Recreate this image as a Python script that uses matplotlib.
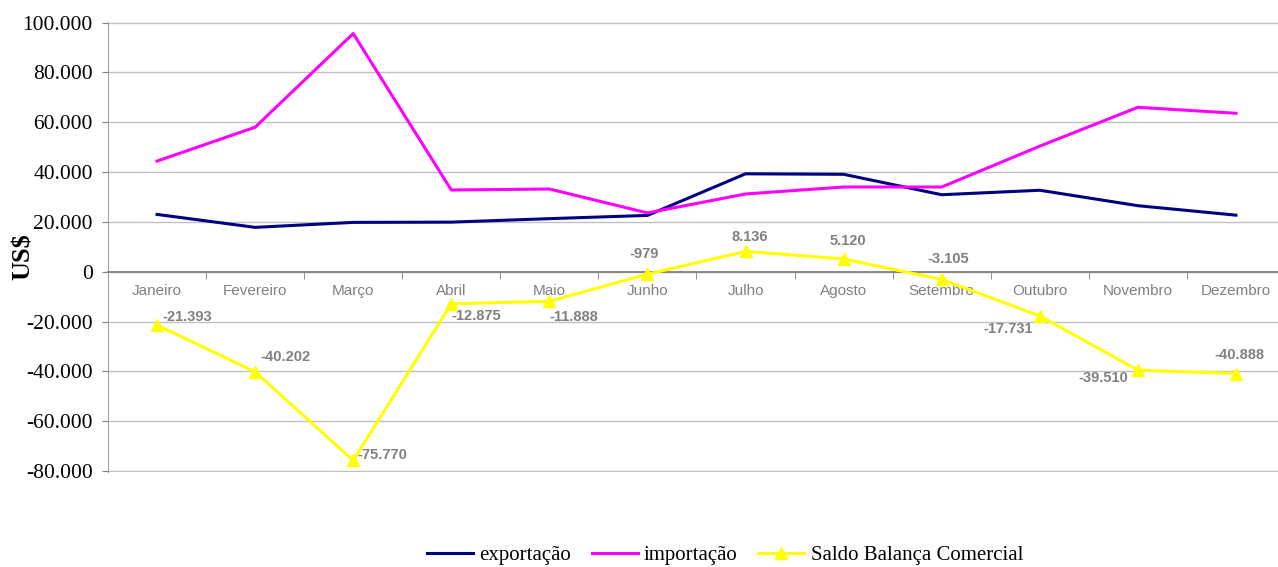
import matplotlib.pyplot as plt
from matplotlib.ticker import FuncFormatter, FixedLocator

plt.rcParams['axes.unicode_minus'] = False

# dados
meses = ['Janeiro', 'Fevereiro', 'Março', 'Abril', 'Maio', 'Junho', 'Julho',
         'Agosto', 'Setembro', 'Outubro', 'Novembro', 'Dezembro']
exportacao = [23000, 17800, 19800, 19900, 21300, 22600, 39300, 39100, 30900, 32700, 26500, 22700]
importacao = [44400, 58000, 95600, 32800, 33200, 23600, 31200, 34000, 34000, 50400, 66000, 63600]
saldo = [-21393, -40202, -75770, -12875, -11888, -979, 8136, 5120, -3105, -17731, -39510, -40888]

# deslocamento dos rótulos (pixels) e alinhamento
rotulo_pos = [(5, 8, 'left'), (30, 15, 'center'), (4, 5, 'left'), (0, -12, 'left'),
              (0, -16, 'left'), (-3, 20, 'center'), (4, 14, 'center'), (4, 18, 'center'),
              (6, 20, 'center'), (-32, -13, 'center'), (-35, -8, 'center'), (3, 19, 'center')]

fig = plt.figure(figsize=(12.78, 5.67), dpi=100)
ax = fig.add_axes([108 / 1278, 95 / 567, 1177 / 1278, 450.4 / 567])

x = list(range(len(meses)))
ax.plot(x, exportacao, color='#000080', lw=2.2, label='exportação', zorder=3)
ax.plot(x, importacao, color='#FF00FF', lw=2.2, label='importação', zorder=3)
ax.plot(x, saldo, color='#FFFF00', lw=2.2, marker='^', markersize=9,
        label='Saldo Balança Comercial', zorder=4)

for i, v in enumerate(saldo):
    dx, dy, ha = rotulo_pos[i]
    txt = f'{v:,}'.replace(',', '.')
    ax.annotate(txt, (i, v), xytext=(dx, dy), textcoords='offset pixels',
                ha=ha, va='center', fontsize=10.5, fontweight='bold',
                color='#808080', family='Liberation Sans', zorder=5)

ax.set_xlim(-0.5, 11.5)
ax.set_ylim(-80400, 100400)
ax.set_yticks(range(-80000, 100001, 20000))
ax.yaxis.set_major_formatter(FuncFormatter(lambda v, p: f'{int(v):,}'.replace(',', '.')))
for lab in ax.get_yticklabels():
    lab.set_family('Liberation Serif')
ax.tick_params(axis='y', labelsize=15.5, length=4, color='#808080', pad=7)

ax.grid(axis='y', color='#C0C0C0', lw=1)
ax.set_axisbelow(True)
for s in ['top', 'right']:
    ax.spines[s].set_visible(False)
ax.spines['left'].set_color('#A0A0A0')
ax.spines['bottom'].set_position(('data', 0))
ax.spines['bottom'].set_color('#808080')
ax.spines['bottom'].set_linewidth(1.3)

ax.set_xticks(x)
ax.set_xticklabels(meses, family='Liberation Sans', fontsize=11, color='#808080')
ax.tick_params(axis='x', which='major', length=0, pad=9)
ax.xaxis.set_minor_locator(FixedLocator([i - 0.5 for i in range(1, 13)]))
ax.tick_params(axis='x', which='minor', length=5, color='#808080', direction='out')

fig.text(23 / 1278, 1 - 257 / 567, 'US$', rotation=90, ha='center', va='center',
         family='Liberation Serif', fontweight='bold', fontsize=19)

fig.legend(loc='center', bbox_to_anchor=(725 / 1278, 12 / 567), ncol=3, frameon=False,
           prop={'family': 'Liberation Serif', 'size': 15}, handlelength=2.2,
           handletextpad=0.3, columnspacing=1.0)

fig.savefig('out.png', dpi=100)
